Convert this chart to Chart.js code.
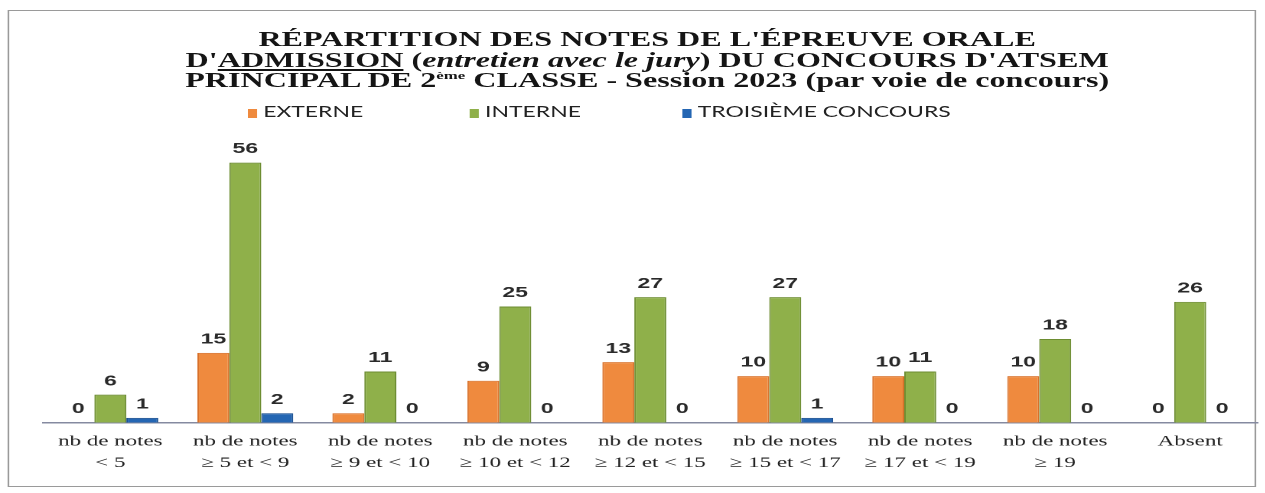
<!DOCTYPE html>
<html lang="fr">
<head>
<meta charset="utf-8">
<script src="https://cdn.jsdelivr.net/npm/chart.js@4/dist/chart.umd.min.js"></script>
<style>
  html, body { margin: 0; padding: 0; background: #fff; overflow: hidden; }
  /* the scan is stretched sideways, so draw narrow and stretch the whole block */
  #wrap {
    position: relative; width: 827px; height: 493px;
    transform: scaleX(1.53); transform-origin: 0 0;
  }
  #frame {
    position: absolute; left: 5px; top: 10px; width: 816px; height: 477px;
    border: 1px solid #9a9a9a; box-sizing: border-box;
  }
  #title {
    position: absolute; left: 423px; top: 29px; transform: translateX(-50%);
    white-space: nowrap; text-align: center;
    font: bold 21px/20.5px "Liberation Serif", "Times New Roman", serif; color: #151515;
  }
  #title sup { font-size: 11px; line-height: 0; vertical-align: 8px; }
  #title i { font-weight: bold; }
  .lg { position: absolute; top: 103px; font: 15px/16px Lato, "Open Sans", sans-serif; color: #222; white-space: nowrap; }
  .lg span { display: inline-block; width: 6px; height: 9px; margin-right: 4px; vertical-align: -1px; }
  canvas { position: absolute; left: 0; top: 0; }
</style>
</head>
<body>
<div id="wrap">
  <div id="frame"></div>
  <canvas id="chart" width="827" height="493"></canvas>
  <div id="title">RÉPARTITION DES NOTES DE L'ÉPREUVE ORALE<br>D'<u>ADMISSION</u> (<i>entretien avec le jury</i>) DU CONCOURS D'ATSEM<br>PRINCIPAL DE 2<sup>ème</sup> CLASSE - Session 2023 (par voie de concours)</div>
  <div id="legend"></div>
</div>
<script>
const categories = [
  ['nb de notes', '< 5'],
  ['nb de notes', '≥ 5 et < 9'],
  ['nb de notes', '≥ 9 et < 10'],
  ['nb de notes', '≥ 10 et < 12'],
  ['nb de notes', '≥ 12 et < 15'],
  ['nb de notes', '≥ 15 et < 17'],
  ['nb de notes', '≥ 17 et < 19'],
  ['nb de notes', '≥ 19'],
  'Absent'
]
const externe = [0, 15, 2, 9, 13, 10, 10, 10, 0]
const interne = [6, 56, 11, 25, 27, 27, 11, 18, 26]
const troisieme = [1, 2, 0, 0, 0, 1, 0, 0, 0]

const series = [
  { label: 'EXTERNE', data: externe, color: '#ef8a3e', edge: '#d9712a' },
  { label: 'INTERNE', data: interne, color: '#8fb04a', edge: '#6d8d32' },
  { label: 'TROISIÈME CONCOURS', data: troisieme, color: '#2466b3', edge: '#1a4f91' }
]

// legend drawn as html, spaced like the original
const legendLeft = [162, 307, 446]
const legend = document.getElementById('legend')
series.forEach((s, i) => {
  const d = document.createElement('div')
  d.className = 'lg'
  d.style.left = legendLeft[i] + 'px'
  d.innerHTML = '<span style="background:' + s.color + '"></span>' + s.label
  legend.appendChild(d)
})

// value above every bar, zeros included
const valueLabels = {
  id: 'valueLabels',
  afterDatasetsDraw (chart) {
    const ctx = chart.ctx
    ctx.save()
    ctx.font = 'bold 15px "Liberation Sans", Arial, sans-serif'
    ctx.fillStyle = '#2a2a2a'
    ctx.textAlign = 'center'
    ctx.textBaseline = 'bottom'
    chart.data.datasets.forEach((ds, i) => {
      chart.getDatasetMeta(i).data.forEach((bar, j) => {
        ctx.fillText(String(ds.data[j]), bar.x, bar.y - 6)
      })
    })
    ctx.restore()
  }
}

new Chart(document.getElementById('chart'), {
  type: 'bar',
  data: {
    labels: categories,
    datasets: series.map(s => ({
      label: s.label,
      data: s.data,
      backgroundColor: s.color,
      borderColor: s.edge,
      borderWidth: 1,
      categoryPercentage: 0.71,
      barPercentage: 1
    }))
  },
  options: {
    responsive: false,
    animation: false,
    devicePixelRatio: 2,
    layout: { padding: { top: 144, left: 28, right: 5, bottom: 19 } },
    plugins: {
      legend: { display: false },
      title: { display: false },
      tooltip: { enabled: false }
    },
    scales: {
      x: {
        grid: { display: false },
        border: { display: true, color: '#858aa0', width: 1.5 },
        ticks: {
          color: '#222',
          padding: 0,
          maxRotation: 0,
          autoSkip: false,
          font: { family: '"Liberation Serif", "Times New Roman", serif', size: 15, lineHeight: 1.45 }
        }
      },
      y: {
        display: false,
        min: 0,
        max: 60
      }
    }
  },
  plugins: [valueLabels]
})
</script>
</body>
</html>
